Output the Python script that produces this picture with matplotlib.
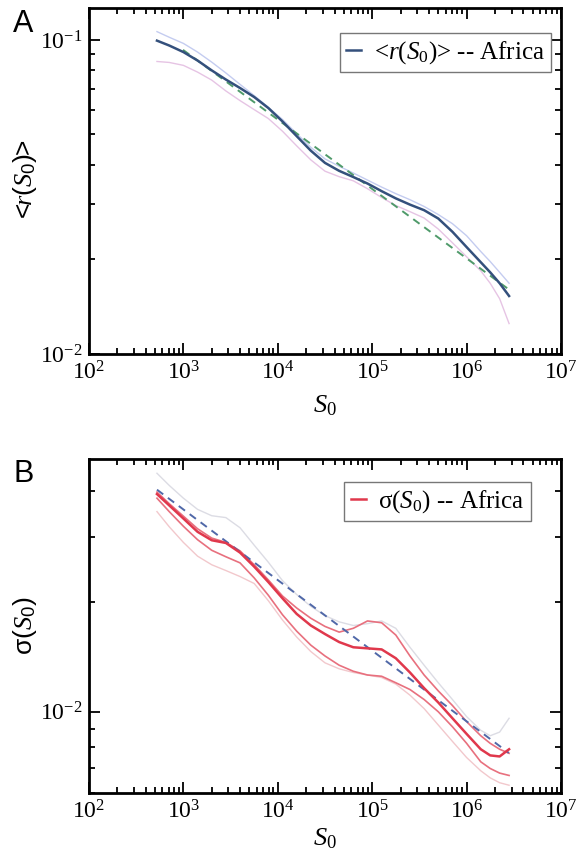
import numpy as np
import matplotlib
matplotlib.use('Agg')
import matplotlib.pyplot as plt
from matplotlib.ticker import LogLocator, NullFormatter

plt.rcParams['font.family'] = ['Liberation Serif', 'DejaVu Serif']
plt.rcParams['mathtext.fontset'] = 'custom'
plt.rcParams['mathtext.rm'] = 'Liberation Serif'
plt.rcParams['mathtext.it'] = 'Liberation Serif:italic'
plt.rcParams['mathtext.sf'] = 'Liberation Sans'

# S0 sampling, as exponents of 10
log_s = np.array([2.72, 2.85, 3.00, 3.15, 3.30, 3.45, 3.60, 3.75, 3.90, 4.05, 4.20, 4.35, 4.50,
                  4.65, 4.80, 4.95, 5.10, 5.25, 5.40, 5.55, 5.70, 5.85, 6.00, 6.15, 6.25, 6.35, 6.45])
s0 = 10 ** log_s

# ---- panel A : <r(S0)> ----
rA_main = [0.0995, 0.0960, 0.0915, 0.0860, 0.0800, 0.0748, 0.0703, 0.0658, 0.0607, 0.0550,
           0.0494, 0.0444, 0.0406, 0.0383, 0.0366, 0.0349, 0.0330, 0.0313, 0.0299, 0.0287,
           0.0270, 0.0245, 0.0219, 0.0196, 0.0182, 0.0168, 0.0153]
rA_up = [0.1063, 0.1020, 0.0975, 0.0915, 0.0850, 0.0785, 0.0722, 0.0665, 0.0610, 0.0558,
         0.0503, 0.0455, 0.0418, 0.0396, 0.0377, 0.0358, 0.0340, 0.0324, 0.0310, 0.0295,
         0.0278, 0.0260, 0.0238, 0.0212, 0.0197, 0.0182, 0.0168]
rA_lo = [0.0854, 0.0848, 0.0830, 0.0790, 0.0745, 0.0688, 0.0641, 0.0600, 0.0562, 0.0512,
         0.0460, 0.0415, 0.0382, 0.0367, 0.0356, 0.0336, 0.0315, 0.0297, 0.0284, 0.0271,
         0.0250, 0.0226, 0.0204, 0.0184, 0.0168, 0.0150, 0.0125]
sA_fit = [990, 2690000]
rA_fit = [0.0930, 0.0162]

# ---- panel B : sigma(S0) ----
sigB_main = [0.0393, 0.0366, 0.0337, 0.0310, 0.0294, 0.0289, 0.0272, 0.0249, 0.0226, 0.0204,
             0.0185, 0.0172, 0.0163, 0.0155, 0.0150, 0.0149, 0.0148, 0.0140, 0.0128, 0.0116,
             0.0106, 0.0096, 0.0087, 0.0079, 0.0076, 0.00755, 0.0079]
sigB_up = [0.0398, 0.0370, 0.0342, 0.0316, 0.0298, 0.0290, 0.0275, 0.0252, 0.0229, 0.0207,
           0.0192, 0.0180, 0.0171, 0.0165, 0.0169, 0.0177, 0.0175, 0.0162, 0.0142, 0.0126,
           0.0114, 0.0104, 0.0094, 0.0086, 0.0082, 0.0079, 0.0077]
sigB_lo = [0.0383, 0.0352, 0.0321, 0.0295, 0.0276, 0.0265, 0.0255, 0.0232, 0.0208, 0.0184,
           0.0166, 0.0152, 0.0142, 0.0134, 0.0129, 0.0126, 0.0125, 0.0120, 0.0115, 0.0108,
           0.0100, 0.0091, 0.0082, 0.0073, 0.0070, 0.0068, 0.0067]
sigB_gup = [0.0448, 0.0415, 0.0383, 0.0357, 0.0343, 0.0339, 0.0318, 0.0285, 0.0256, 0.0228,
            0.0209, 0.0194, 0.0183, 0.0176, 0.0172, 0.0174, 0.0177, 0.0169, 0.0150, 0.0134,
            0.0120, 0.0108, 0.0097, 0.0089, 0.0086, 0.0088, 0.0096]
sigB_glo = [0.0352, 0.0320, 0.0290, 0.0266, 0.0252, 0.0243, 0.0234, 0.0224, 0.0201, 0.0178,
            0.0160, 0.0146, 0.0136, 0.0131, 0.0128, 0.0126, 0.0124, 0.0119, 0.0111, 0.0102,
            0.0092, 0.0083, 0.0075, 0.0069, 0.0066, 0.0064, 0.0063]
sB_fit = [525, 2800000]
sigB_fit = [0.0404, 0.00772]

W, H = 577, 861
fig = plt.figure(figsize=(W / 100, H / 100), dpi=100)
axA = fig.add_axes([89 / W, 1 - 354 / H, 472 / W, 346 / H])
axB = fig.add_axes([89 / W, 1 - 793 / H, 472 / W, 334 / H])


def style(ax, ylim):
    ax.set_xscale('log')
    ax.set_yscale('log')
    ax.set_xlim(1e2, 1e7)
    ax.set_ylim(*ylim)
    ax.xaxis.set_major_locator(LogLocator(base=10, numticks=10))
    ax.xaxis.set_minor_locator(LogLocator(base=10, subs=np.arange(2, 10), numticks=20))
    ax.xaxis.set_minor_formatter(NullFormatter())
    ax.yaxis.set_minor_formatter(NullFormatter())
    ax.tick_params(which='both', direction='in', top=True, right=True, width=1.3,
                   labelsize=17, pad=5)
    ax.tick_params(which='major', length=8)
    ax.tick_params(which='minor', length=4)
    for sp in ax.spines.values():
        sp.set_linewidth(2)


leg_kw = dict(loc='upper right', borderaxespad=0, fontsize=18, handlelength=0.6,
              handletextpad=0.5, borderpad=0.25, fancybox=False, framealpha=1,
              edgecolor='#777777')

# panel A
style(axA, (0.01, 0.1264))
axA.plot(s0, rA_up, color='#c4ccf0', lw=1.0)
axA.plot(s0, rA_lo, color='#e6c4e4', lw=1.0)
axA.plot(sA_fit, rA_fit, color='#4f9a6a', lw=1.4, ls=(0, (4, 3)))
axA.plot(s0, rA_main, color='#34507c', lw=1.8, label=r'<$r$($S_0$)> -- Africa')
axA.set_ylabel(r'$\mathsf{<}\!\!\mathit{r}\mathsf{(}\mathit{S}_{\mathsf{0}}\mathsf{)}\!\!\mathsf{>}$',
               fontsize=19)
axA.yaxis.set_label_coords(-0.105, 0.5)
axA.set_xlabel(r'$S_0$', fontsize=19)
axA.xaxis.set_label_coords(0.5, -0.115)
legA = axA.legend(bbox_to_anchor=(0.979, 0.928), **leg_kw)
legA.get_frame().set_linewidth(1.0)

# panel B
style(axB, (0.006, 0.049))
axB.plot(s0, sigB_gup, color='#dcdce4', lw=1.0)
axB.plot(s0, sigB_glo, color='#f2c8cc', lw=1.0)
axB.plot(s0, sigB_up, color='#e8707e', lw=1.2)
axB.plot(s0, sigB_lo, color='#e8707e', lw=1.2)
axB.plot(sB_fit, sigB_fit, color='#5068a8', lw=1.4, ls=(0, (4, 3)))
axB.plot(s0, sigB_main, color='#e0384c', lw=1.8, label=r'σ($S_0$) -- Africa')
axB.set_ylabel(r'$\mathsf{\sigma(}\mathit{S}_{\mathsf{0}}\mathsf{)}$', fontsize=19)
axB.yaxis.set_label_coords(-0.105, 0.5)
axB.set_xlabel(r'$S_0$', fontsize=19)
axB.xaxis.set_label_coords(0.5, -0.1)
legB = axB.legend(bbox_to_anchor=(0.9365, 0.931), **leg_kw)
legB.get_frame().set_linewidth(1.0)

fig.text(23 / W, 1 - 24 / H, 'A', fontsize=22, family=['Liberation Sans', 'DejaVu Sans'],
         ha='center', va='center')
fig.text(24 / W, 1 - 474 / H, 'B', fontsize=22, family=['Liberation Sans', 'DejaVu Sans'],
         ha='center', va='center')

fig.savefig('out.png', dpi=100)
